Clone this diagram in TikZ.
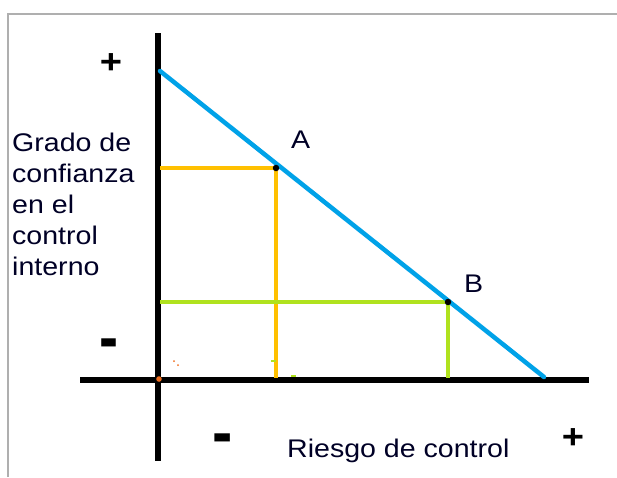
\documentclass[tikz,border=0pt]{standalone}
\usepackage{fontspec}
\setmainfont{Liberation Sans}[FakeStretch=1.12]
\definecolor{lineblue}{RGB}{0,162,232}
\definecolor{lineyellow}{RGB}{255,192,0}
\definecolor{linegreen}{RGB}{176,226,30}
\definecolor{framegray}{RGB}{175,175,175}
\definecolor{speckorange}{RGB}{240,110,30}
\tikzset{
  axisline/.style={line width=5.5pt, black},
  guideA/.style={line width=4.5pt, lineyellow},
  guideB/.style={line width=4.5pt, linegreen},
  diag/.style={line width=4.5pt, lineblue, line cap=round},
  ptdot/.style={circle, fill=black, inner sep=0pt, minimum size=6.5pt},
  lbl/.style={inner sep=0pt, anchor=base west, font=\fontsize{25.5}{31}\selectfont, text=black!85!blue},
  sign/.style={inner sep=0pt, font=\bfseries\fontsize{34}{34}\selectfont},
}
\begin{document}
\begin{tikzpicture}[x=1pt, y=-1pt]
\useasboundingbox (0,0) rectangle (617,477);
\fill[white] (0,0) rectangle (617,477);
% frame
\draw[framegray, line width=1.5pt] (8,477) -- (8,14) -- (617,14);
% axes
\coordinate (ytop) at (158,33);
\coordinate (ybot) at (158,461);
\coordinate (xl) at (80,380);
\coordinate (xr) at (589,380);
\coordinate (O) at (158,380);
\draw[axisline] (ytop) -- (ybot);
\draw[axisline] (xl) -- (xr);
% points
\coordinate (A) at (276,168);
\coordinate (B) at (448,302);
\coordinate (Ay) at (160,168);
\coordinate (Ax) at (276,378);
\coordinate (By) at (160,302);
\coordinate (Bx) at (448,378);
\draw[guideA] (Ay) -- (A) -- (Ax);
\draw[guideB] (By) -- (B) -- (Bx);
% diagonal
\coordinate (d1) at (160,71);
\coordinate (d2) at (544,377);
\draw[diag] (d1) -- (d2);
\node[ptdot] (Adot) at (A) {};
\node[ptdot] (Bdot) at (B) {};
% specks
\fill[speckorange] (O) ++(1,-1) circle (2.8pt);
\fill[speckorange] (174,361) circle (1pt);
\fill[speckorange] (178,365) circle (1pt);
\draw[linegreen, line width=1.5pt] (271,361) -- (276,361);
\draw[linegreen, line width=1.5pt] (291,376) -- (296,376);
% labels
\node[lbl] (tA) at (291,148) {A};
\node[lbl] (tB) at (464,292) {B};
\node[lbl, align=left] (ylab) at (12,275) {Grado de\\confianza\\en el\\control\\interno};
\node[lbl] (xlab) at (287,457) {Riesgo de control};
% signs
\node[sign] (yplus) at (111,64) {+};
\node[sign] (yminus) at (109,350) {\scalebox{1.5}[2]{-}};
\node[sign] (xminus) at (223,445) {\scalebox{1.6}[2]{-}};
\node[sign] (xplus) at (573,439) {+};
\end{tikzpicture}
\end{document}
